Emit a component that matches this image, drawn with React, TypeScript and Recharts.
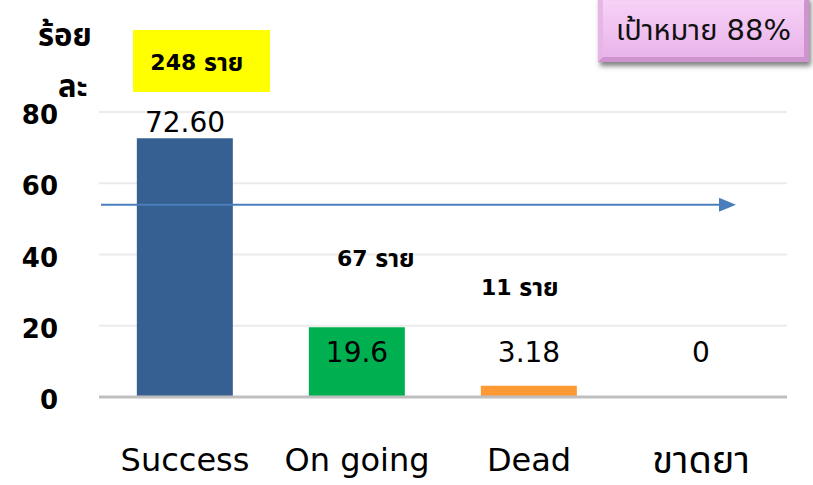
import React from 'react'
import {
  ComposedChart,
  Bar,
  Line,
  XAxis,
  YAxis,
  CartesianGrid,
  LabelList,
  ReferenceLine,
  Cell,
} from 'recharts'

const categories = ['Success', 'On going', 'Dead', 'ขาดยา']
const percents = [72.6, 19.6, 3.18, 0]
const percentLabels = ['72.60', '19.6', '3.18', '0']
const caseCounts: (number | null)[] = [248, 67, 11, null]
const yTicks = [0, 20, 40, 60, 80]
const targetLevel = 54
const targetNote = 'เป้าหมาย 88%'

const barColors = ['#376092', '#00b050', '#ff9933', '#7f7f7f']
// where each "n ราย" note sits: offset from bar centre, absolute y
const countPos = [
  { dx: 12, y: 62 },
  { dx: 19, y: 258 },
  { dx: -9, y: 287 },
  { dx: 0, y: 0 },
]
const LOW_LABEL_Y = 352

const FONT = "'DejaVu Sans', 'Noto Sans Thai', sans-serif"
const isThai = (s: string) => /[\u0E00-\u0E7F]/.test(s)

const rows = categories.map((name, i) => ({
  name,
  pct: percents[i],
  label: percentLabels[i],
  count: caseCounts[i],
}))

function PctLabel(props: any) {
  const { x, y, index } = props
  const cy = index === 0 ? y - 16 : LOW_LABEL_Y
  return (
    <text x={x} y={cy} textAnchor="middle" dominantBaseline="central" fontSize={28} fill="#000" fontFamily={FONT}>
      {rows[index].label}
    </text>
  )
}

function CountLabel(props: any) {
  const { x, width, index } = props
  const c = rows[index].count
  if (c == null) return null
  const cx = x + width / 2 + countPos[index].dx
  const cy = countPos[index].y
  return (
    <g>
      {index === 0 && <rect x={133} y={30} width={137} height={62} fill="#ffff00" />}
      <text x={cx} y={cy} textAnchor="middle" dominantBaseline="central" fontSize={22} fontWeight="bold" fill="#000" fontFamily={FONT}>
        {`${c} `}
        <tspan fontSize={25}>ราย</tspan>
      </text>
    </g>
  )
}

function ArrowShape(p: any) {
  const { x1, y1, x2 } = p
  const tip = x2 - 51
  return (
    <g>
      <line x1={x1 + 2} y1={y1} x2={tip - 14} y2={y1} stroke="#4a7ebb" strokeWidth={2} />
      <polygon points={`${tip - 17},${y1 - 7} ${tip},${y1} ${tip - 17},${y1 + 7}`} fill="#4a7ebb" />
    </g>
  )
}

function YTick(props: any) {
  const { y, payload } = props
  return (
    <text x={58} y={y + 3} textAnchor="end" dominantBaseline="central" fontSize={26} fontWeight="bold" fill="#000" fontFamily={FONT}>
      {payload.value}
    </text>
  )
}

function XTick(props: any) {
  const { x, payload } = props
  const thai = isThai(payload.value)
  return (
    <text x={x} y={460} textAnchor="middle" dominantBaseline="central" fontSize={thai ? 38 : 32} fill="#000" fontFamily={FONT}>
      {payload.value}
    </text>
  )
}

export default function App() {
  return (
    <div style={{ position: 'absolute', left: 0, top: 0, width: 813, height: 485, background: '#fff', fontFamily: FONT }}>
      <ComposedChart
        width={813}
        height={485}
        data={rows}
        margin={{ top: 112, right: 26, left: 0, bottom: 0 }}
        barCategoryGap="22%"
      >
        <CartesianGrid vertical={false} stroke="#ebebeb" strokeWidth={2} />
        <XAxis
          dataKey="name"
          height={88}
          axisLine={{ stroke: '#bfbfbf', strokeWidth: 3 }}
          tickLine={false}
          tick={<XTick />}
          interval={0}
        />
        <YAxis
          width={99}
          domain={[0, 80]}
          ticks={yTicks}
          axisLine={false}
          tickLine={false}
          tick={<YTick />}
        />
        <ReferenceLine y={targetLevel} shape={<ArrowShape />} />
        <Bar dataKey="pct" isAnimationActive={false}>
          {rows.map((r, i) => (
            <Cell key={r.name} fill={barColors[i]} />
          ))}
          <LabelList dataKey="count" content={<CountLabel />} />
        </Bar>
        <Line dataKey="pct" stroke="none" dot={false} activeDot={false} isAnimationActive={false}>
          <LabelList dataKey="label" content={<PctLabel />} />
        </Line>
      </ComposedChart>

      <div style={{ position: 'absolute', left: 38, top: 14, fontSize: 31, fontWeight: 'bold', lineHeight: '42px' }}>
        ร้อย
      </div>
      <div style={{ position: 'absolute', left: 58, top: 65, fontSize: 31, fontWeight: 'bold', lineHeight: '42px' }}>
        ละ
      </div>

      <div
        style={{
          position: 'absolute',
          left: 598,
          top: -4,
          width: 211,
          height: 66,
          boxSizing: 'border-box',
          border: '5px solid #cf94cf',
          borderTopColor: '#f3d0f3',
          borderLeftColor: '#e7b5e7',
          background: 'linear-gradient(#f6d2f6, #eab4ea)',
          boxShadow: '2px 4px 5px rgba(0,0,0,0.5)',
          display: 'flex',
          alignItems: 'center',
          justifyContent: 'center',
          fontSize: 29,
          color: '#111',
          paddingTop: 4,
          whiteSpace: 'nowrap',
        }}
      >
        {targetNote}
      </div>
    </div>
  )
}
